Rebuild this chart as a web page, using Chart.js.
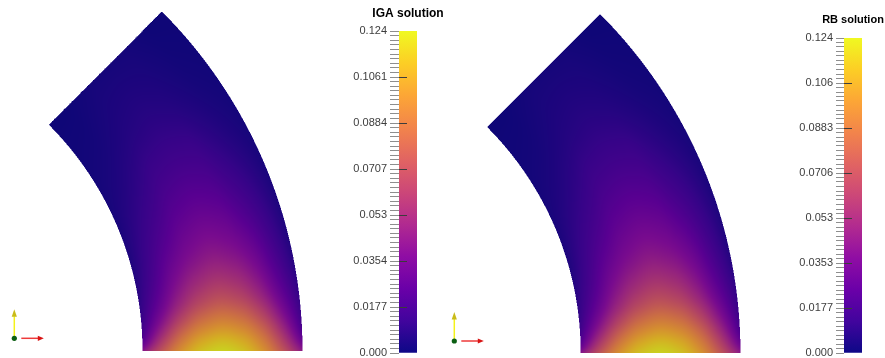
<!DOCTYPE html>
<html>
<head>
<meta charset="utf-8">
<script src="https://cdn.jsdelivr.net/npm/chart.js@4.4.1/dist/chart.umd.min.js"></script>
<style>
  html, body { margin: 0; padding: 0; background: #fff; }
  #stage { position: relative; width: 885px; height: 358px; overflow: hidden; }
  #stage canvas { position: absolute; top: 0; }
</style>
</head>
<body>
<div id="stage">
  <canvas id="igaField" width="340" height="358" style="left:0px"></canvas>
  <canvas id="igaBar" width="136" height="358" style="left:340px"></canvas>
  <canvas id="rbField" width="345" height="358" style="left:440px"></canvas>
  <canvas id="rbBar" width="136" height="358" style="left:785px"></canvas>
</div>
<script>
// Nodal grid of the annular sector: polar angle (degrees) by radius (inner radius = 1).
const angles = [0, 1.5, 3, 5, 7.5, 10.5, 14, 18, 23, 29, 36, 45];
const radii = [1, 1.0625, 1.125, 1.1875, 1.25, 1.3125, 1.375, 1.4375, 1.5];

// IGA solution at the nodes (one row per angle, one column per radius).
const igaValues = [
  [0.042, 0.075, 0.102, 0.118, 0.1237, 0.118, 0.102, 0.075, 0.044],
  [0.026, 0.063, 0.092, 0.109, 0.115, 0.109, 0.092, 0.063, 0.028],
  [0.018, 0.052, 0.081, 0.098, 0.104, 0.098, 0.081, 0.052, 0.019],
  [0.013, 0.040, 0.066, 0.083, 0.089, 0.083, 0.066, 0.040, 0.014],
  [0.010, 0.030, 0.051, 0.066, 0.072, 0.066, 0.051, 0.030, 0.011],
  [0.008, 0.023, 0.040, 0.052, 0.057, 0.052, 0.040, 0.023, 0.008],
  [0.006, 0.018, 0.031, 0.040, 0.044, 0.040, 0.031, 0.018, 0.006],
  [0.005, 0.014, 0.023, 0.031, 0.034, 0.031, 0.023, 0.014, 0.005],
  [0.004, 0.010, 0.016, 0.022, 0.024, 0.022, 0.016, 0.010, 0.004],
  [0.003, 0.006, 0.010, 0.014, 0.015, 0.014, 0.010, 0.006, 0.003],
  [0.002, 0.003, 0.005, 0.007, 0.008, 0.007, 0.005, 0.003, 0.002],
  [0.001, 0.001, 0.002, 0.003, 0.003, 0.003, 0.002, 0.001, 0.001]
];

// Reduced-basis solution at the same nodes.
const rbValues = [
  [0.042, 0.075, 0.102, 0.118, 0.1236, 0.118, 0.102, 0.075, 0.044],
  [0.026, 0.063, 0.092, 0.109, 0.115, 0.109, 0.092, 0.063, 0.028],
  [0.018, 0.052, 0.081, 0.098, 0.104, 0.098, 0.081, 0.052, 0.019],
  [0.013, 0.040, 0.066, 0.083, 0.089, 0.083, 0.066, 0.040, 0.014],
  [0.010, 0.030, 0.051, 0.066, 0.072, 0.066, 0.051, 0.030, 0.011],
  [0.008, 0.023, 0.040, 0.052, 0.057, 0.052, 0.040, 0.023, 0.008],
  [0.006, 0.018, 0.031, 0.040, 0.044, 0.040, 0.031, 0.018, 0.006],
  [0.005, 0.014, 0.023, 0.031, 0.034, 0.031, 0.023, 0.014, 0.005],
  [0.004, 0.010, 0.016, 0.022, 0.024, 0.022, 0.016, 0.010, 0.004],
  [0.003, 0.006, 0.010, 0.014, 0.015, 0.014, 0.010, 0.006, 0.003],
  [0.002, 0.003, 0.005, 0.007, 0.008, 0.007, 0.005, 0.003, 0.002],
  [0.001, 0.001, 0.002, 0.003, 0.003, 0.003, 0.002, 0.001, 0.001]
];

// Colour-bar ranges and their tick labels (bottom to top).
const igaRange = [0, 0.12375];
const rbRange = [0, 0.12362];
const igaTickLabels = ['0.000', '0.0177', '0.0354', '0.053', '0.0707', '0.0884', '0.1061', '0.124'];
const rbTickLabels = ['0.000', '0.0177', '0.0353', '0.053', '0.0706', '0.0883', '0.106', '0.124'];

// Plasma colour map
const PLASMA = [
  [13, 8, 135], [65, 4, 157], [106, 0, 168], [143, 13, 164], [177, 42, 144],
  [204, 71, 120], [225, 100, 98], [242, 132, 75], [252, 166, 54], [252, 206, 37], [240, 249, 33]
];
function plasma(f) {
  f = Math.min(1, Math.max(0, f));
  const p = f * (PLASMA.length - 1);
  const i = Math.min(PLASMA.length - 2, Math.floor(p));
  const t = p - i;
  const a = PLASMA[i], b = PLASMA[i + 1];
  return [a[0] + (b[0] - a[0]) * t, a[1] + (b[1] - a[1]) * t, a[2] + (b[2] - a[2]) * t];
}

// Monotone cubic (PCHIP) evaluation through the nodal samples
function pchip(xs, ys, x) {
  const n = xs.length;
  if (x <= xs[0]) return ys[0];
  if (x >= xs[n - 1]) return ys[n - 1];
  let i = 0;
  while (x > xs[i + 1]) i++;
  const slope = k => (ys[k + 1] - ys[k]) / (xs[k + 1] - xs[k]);
  const deriv = k => {
    if (k === 0) return slope(0);
    if (k === n - 1) return slope(n - 2);
    const s0 = slope(k - 1), s1 = slope(k);
    if (s0 * s1 <= 0) return 0;
    const h0 = xs[k] - xs[k - 1], h1 = xs[k + 1] - xs[k];
    const w1 = 2 * h1 + h0, w2 = h1 + 2 * h0;
    return (w1 + w2) / (w1 / s0 + w2 / s1);
  };
  const h = xs[i + 1] - xs[i], t = (x - xs[i]) / h;
  const m0 = deriv(i) * h, m1 = deriv(i + 1) * h;
  const t2 = t * t, t3 = t2 * t;
  return (2 * t3 - 3 * t2 + 1) * ys[i] + (t3 - 2 * t2 + t) * m0 + (-2 * t3 + 3 * t2) * ys[i + 1] + (t3 - t2) * m1;
}

// Rasterises the nodal field over the sector through the chart's x/y scales
const fieldRaster = {
  id: 'fieldRaster',
  beforeDatasetsDraw(chart) {
    const ds = chart.data.datasets[0];
    const { angles: th, radii: rr, values, range } = ds.field;
    const { ctx, chartArea: a, scales: { x: xs, y: ys } } = chart;
    const w = Math.round(a.right - a.left), h = Math.round(a.bottom - a.top);
    const off = document.createElement('canvas');
    off.width = w; off.height = h;
    const octx = off.getContext('2d');
    const img = octx.createImageData(w, h);
    const rIn = rr[0], rOut = rr[rr.length - 1];
    const thMax = th[th.length - 1] * Math.PI / 180;
    const cols = rr.map((_, j) => values.map(row => row[j]));
    const inside = (px, py) => {
      const x = xs.getValueForPixel(px), y = ys.getValueForPixel(py);
      const r = Math.hypot(x, y), t = Math.atan2(y, x);
      return r >= rIn && r <= rOut && t >= 0 && t <= thMax ? [r, t] : null;
    };
    const shade = 0.84;
    const sub = [0.25, 0.75];
    for (let j = 0; j < h; j++) {
      for (let i = 0; i < w; i++) {
        const px = a.left + i, py = a.top + j;
        let cover = 0;
        for (const sx of sub) for (const sy of sub) if (inside(px + sx, py + sy)) cover++;
        if (!cover) continue;
        const x = xs.getValueForPixel(px + 0.5), y = ys.getValueForPixel(py + 0.5);
        let r = Math.min(rOut, Math.max(rIn, Math.hypot(x, y)));
        let t = Math.min(th[th.length - 1], Math.max(0, Math.atan2(y, x) * 180 / Math.PI));
        const atAngle = cols.map(c => pchip(th, c, t));
        const v = pchip(rr, atAngle, r);
        const c = plasma((v - range[0]) / (range[1] - range[0]));
        const k = (j * w + i) * 4;
        img.data[k] = c[0] * shade;
        img.data[k + 1] = c[1] * shade;
        img.data[k + 2] = c[2] * shade + 4;
        img.data[k + 3] = Math.round(255 * cover / 4);
      }
    }
    octx.putImageData(img, 0, 0);
    ctx.drawImage(off, a.left, a.top);
  }
};

// Small orientation triad (y up, x right) in the lower-left corner
const triad = {
  id: 'triad',
  afterDraw(chart) {
    const { ctx, chartArea: a } = chart;
    const o = chart.options.plugins.triad;
    const cx = a.left + o.x, cy = a.top + o.y;
    ctx.save();
    ctx.lineWidth = 1.5;
    ctx.strokeStyle = '#f4f21a';
    ctx.beginPath(); ctx.moveTo(cx, cy - 2); ctx.lineTo(cx, cy - 22); ctx.stroke();
    ctx.fillStyle = '#c9bb18';
    ctx.beginPath(); ctx.moveTo(cx, cy - 29); ctx.lineTo(cx - 2.6, cy - 21.5); ctx.lineTo(cx + 2.6, cy - 21.5); ctx.closePath(); ctx.fill();
    ctx.strokeStyle = '#ee3a3a';
    ctx.beginPath(); ctx.moveTo(cx + 7, cy); ctx.lineTo(cx + 24, cy); ctx.stroke();
    ctx.fillStyle = '#d81414';
    ctx.beginPath(); ctx.moveTo(cx + 29.5, cy); ctx.lineTo(cx + 23.5, cy - 2.6); ctx.lineTo(cx + 23.5, cy + 2.6); ctx.closePath(); ctx.fill();
    ctx.fillStyle = '#0b5f12';
    ctx.beginPath(); ctx.arc(cx, cy, 2.6, 0, Math.PI * 2); ctx.fill();
    ctx.restore();
  }
};

function fieldChart(id, values, range, view) {
  const canvas = document.getElementById(id);
  const nodes = [];
  angles.forEach(a => radii.forEach(r => nodes.push({
    x: r * Math.cos(a * Math.PI / 180), y: r * Math.sin(a * Math.PI / 180)
  })));
  // view: pixel position of the arc centre and pixels per unit radius
  const s = view.scale;
  return new Chart(canvas, {
    type: 'scatter',
    data: { datasets: [{ data: nodes, pointRadius: 0, field: { angles, radii, values, range } }] },
    options: {
      responsive: false, animation: false, events: [],
      layout: { padding: 0 },
      plugins: { legend: { display: false }, tooltip: { enabled: false }, triad: view.triad },
      scales: {
        x: { type: 'linear', display: false, min: -view.cx / s, max: (canvas.width - view.cx) / s },
        y: { type: 'linear', display: false, min: (view.cy - canvas.height) / s, max: view.cy / s }
      }
    },
    plugins: [fieldRaster, triad]
  });
}

// Title centred over the colour bar
const barTitle = {
  id: 'barTitle',
  afterDraw(chart) {
    const o = chart.options.plugins.barTitle;
    const { ctx, chartArea: a } = chart;
    ctx.save();
    ctx.font = `bold ${o.size}px "Liberation Sans", Arial, sans-serif`;
    ctx.fillStyle = '#000';
    ctx.textAlign = 'center';
    ctx.textBaseline = 'middle';
    ctx.fillText(o.text, (a.left + a.right) / 2, o.y);
    ctx.restore();
  }
};

// Dark marks inside the bar at each labelled value
const majorMarks = {
  id: 'majorMarks',
  afterDatasetsDraw(chart) {
    const { ctx, chartArea: a, scales: { y } } = chart;
    const n = chart.options.plugins.majorMarks.count;
    ctx.save();
    ctx.strokeStyle = '#3c3c3c';
    ctx.lineWidth = 1;
    for (let i = 1; i < n - 1; i++) {
      const py = Math.round(y.getPixelForValue(y.min + (y.max - y.min) * i / (n - 1))) + 0.5;
      ctx.beginPath(); ctx.moveTo(a.left, py); ctx.lineTo(a.left + 8, py); ctx.stroke();
    }
    ctx.restore();
  }
};

function colorBar(id, title, labels, range, look) {
  const steps = (labels.length - 1) * 10;
  return new Chart(document.getElementById(id), {
    type: 'bar',
    data: {
      labels: [''],
      datasets: [{
        data: [[range[0], range[1]]],
        borderWidth: 0,
        borderSkipped: false,
        barPercentage: 1,
        categoryPercentage: 1,
        backgroundColor(ctx) {
          const chart = ctx.chart, a = chart.chartArea;
          if (!a) return '#888';
          const y = chart.scales.y;
          const g = chart.ctx.createLinearGradient(0, y.getPixelForValue(range[0]), 0, y.getPixelForValue(range[1]));
          PLASMA.forEach((c, i) => g.addColorStop(i / (PLASMA.length - 1), `rgb(${c[0]},${c[1]},${c[2]})`));
          return g;
        }
      }]
    },
    options: {
      responsive: false, animation: false, events: [],
      layout: { padding: { top: look.top, bottom: 358 - look.bottom, left: 0, right: look.right } },
      plugins: {
        legend: { display: false }, tooltip: { enabled: false },
        barTitle: { text: title, size: look.titleSize, y: look.titleY },
        majorMarks: { count: labels.length }
      },
      scales: {
        x: { display: false },
        y: {
          type: 'linear', position: 'left', min: range[0], max: range[1],
          afterBuildTicks(scale) {
            scale.ticks = Array.from({ length: steps + 1 }, (_, k) => ({ value: range[0] + (range[1] - range[0]) * k / steps }));
          },
          afterFit(scale) {
            scale.width = look.axisWidth;
            scale.paddingTop = 0;
            scale.paddingBottom = 0;
          },
          border: { display: false },
          grid: { drawOnChartArea: false, tickLength: look.tickLength, color: '#8e8e8e', lineWidth: 1 },
          ticks: {
            autoSkip: false, padding: 3, color: '#3d3d3d',
            font: { family: '"Liberation Sans", Arial, sans-serif', size: 11 },
            callback: (v, i) => (i % 10 === 0 ? labels[i / 10] : '')
          }
        }
      }
    },
    plugins: [barTitle, majorMarks]
  });
}

fieldChart('igaField', igaValues, igaRange, { cx: -177.5, cy: 351, scale: 320, triad: { x: 14.3, y: 338.3 } });
fieldChart('rbField', rbValues, rbRange, { cx: -178.8, cy: 353, scale: 319.5, triad: { x: 14.3, y: 341 } });
colorBar('igaBar', 'IGA solution', igaTickLabels, igaRange,
  { top: 31, bottom: 353, right: 59, axisWidth: 59, tickLength: 9, titleSize: 12, titleY: 14 });
colorBar('rbBar', 'RB solution', rbTickLabels, rbRange,
  { top: 38, bottom: 353, right: 59, axisWidth: 59, tickLength: 8, titleSize: 11, titleY: 20 });
</script>
</body>
</html>
